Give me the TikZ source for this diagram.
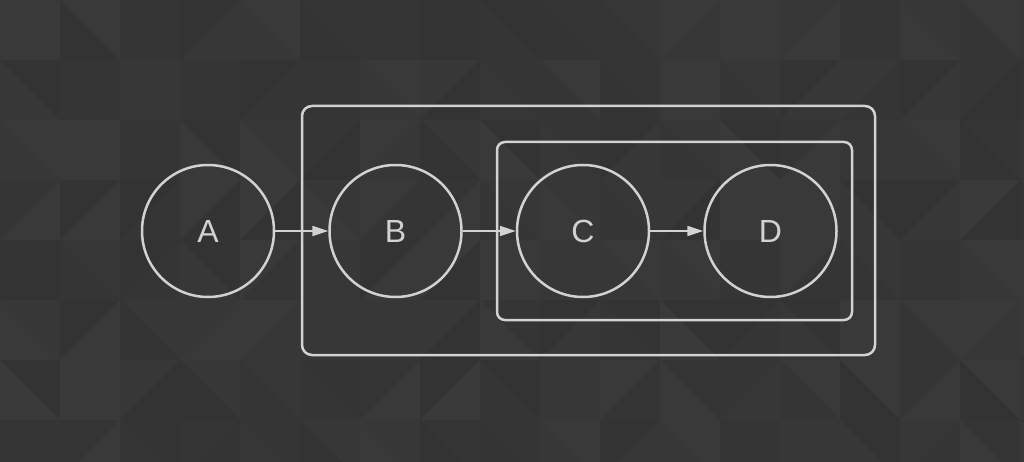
\documentclass[tikz,border=0pt]{standalone}
\usepackage{fontspec}
\setmainfont{Liberation Sans}
\usepackage{xcolor}
\usetikzlibrary{positioning,arrows.meta}
\definecolor{bgdark}{HTML}{333333}
\definecolor{strokegray}{HTML}{D2D2D2}

\begin{document}
\begin{tikzpicture}[x=1pt, y=-1pt, node distance=53pt, >={Triangle[length=16pt,width=10pt]}]
\tikzstyle{state}=[draw=strokegray, circle, line width=2.5pt, minimum size=132pt, inner sep=0pt, text=strokegray, font=\fontsize{32}{38}\selectfont]
\tikzstyle{group}=[draw=strokegray, line width=2.5pt]
\tikzstyle{link}=[->, draw=strokegray, fill=strokegray, line width=1.8pt]
\useasboundingbox (0,0) rectangle (1024,462);
% background tiles
\fill[bgdark] (0,0) rectangle (1024,462);
\pgfmathsetseed{11}
\foreach \i in {0,...,17} {
  \foreach \j in {0,...,7} {
    \pgfmathsetmacro\x{\i*60}
    \pgfmathsetmacro\y{\j*60}
    \pgfmathsetmacro\sa{int(random(0,3))}
    \pgfmathsetmacro\sb{int(random(0,3))}
    \pgfmathsetmacro\dd{int(random(0,1))}
    \ifnum\dd=0
      \fill[white!\sa!bgdark] (\x,\y) -- (\x+60,\y) -- (\x+60,\y+60) -- cycle;
      \fill[white!\sb!bgdark] (\x,\y) -- (\x,\y+60) -- (\x+60,\y+60) -- cycle;
    \else
      \fill[white!\sa!bgdark] (\x,\y) -- (\x+60,\y) -- (\x,\y+60) -- cycle;
      \fill[white!\sb!bgdark] (\x+60,\y) -- (\x+60,\y+60) -- (\x,\y+60) -- cycle;
    \fi
  }
}

\node[state] (a) at (208,231) {A};
\node[state, right=of a] (b) {B};
\node[state, right=of b] (c) {C};
\node[state, right=of c] (d) {D};

% clusters
\draw[group, rounded corners=10pt] (302,106) rectangle (875,355);
\draw[group, rounded corners=8pt] (497,142) rectangle (852,320);

\draw[link] (a) -- (b);
\draw[link] (b) -- (c);
\draw[link] (c) -- (d);
\end{tikzpicture}
\end{document}
